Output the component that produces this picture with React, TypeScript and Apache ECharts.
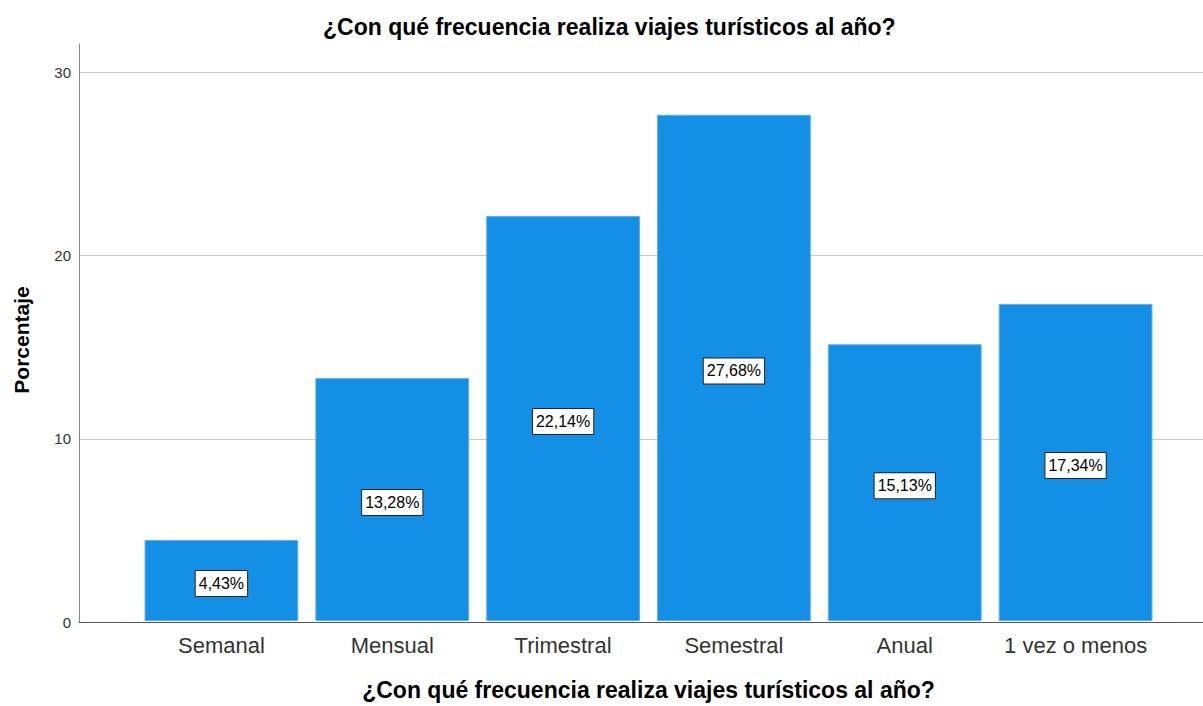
import React, { useEffect, useRef } from "react";
import * as echarts from "echarts";

const categories = ["Semanal", "Mensual", "Trimestral", "Semestral", "Anual", "1 vez o menos"];
const percentages = [4.43, 13.28, 22.14, 27.68, 15.13, 17.34];
const yTicks = [0, 10, 20, 30];
const chartTitle = "¿Con qué frecuencia realiza viajes turísticos al año?";
const xName = "¿Con qué frecuencia realiza viajes turísticos al año?";
const yName = "Porcentaje";

const FONT = "Liberation Sans, Arial, sans-serif";

export default function App() {
  const ref = useRef<HTMLDivElement>(null);
  useEffect(() => {
    const chart = echarts.init(ref.current!, null, { renderer: "svg" });
    const yMax = 31.55;
    chart.setOption({
      animation: false,
      textStyle: { fontFamily: FONT },
      title: {
        text: chartTitle,
        left: 318,
        top: 10,
        textStyle: { fontFamily: FONT, fontSize: 23, fontWeight: "bold", color: "#000" },
      },
      grid: [
        { left: 79, right: 0, top: 44, bottom: 84 },
        { left: 136, right: 42, top: 44, bottom: 84 },
      ],
      graphic: [
        {
          type: "text",
          x: 21,
          y: 340,
          rotation: Math.PI / 2,
          style: {
            text: yName,
            align: "center",
            verticalAlign: "middle",
            fontFamily: FONT,
            fontSize: 21,
            fontWeight: "bold",
            fill: "#000",
          },
        },
      ],
      xAxis: [
        {
          gridIndex: 0,
          type: "value",
          min: 0,
          max: 1,
          axisLine: { show: true, lineStyle: { color: "#555", width: 1 } },
          axisTick: { show: false },
          axisLabel: { show: false },
          splitLine: { show: false },
        },
        {
          gridIndex: 1,
          type: "category",
          data: categories,
          axisLine: { show: false },
          axisTick: { show: false },
          axisLabel: { interval: 0, fontFamily: FONT, fontSize: 22, color: "#333", margin: 13 },
          name: xName,
          nameLocation: "middle",
          nameGap: 57,
          nameTextStyle: { fontFamily: FONT, fontSize: 23, fontWeight: "bold", color: "#000" },
        },
      ],
      yAxis: [
        {
          gridIndex: 0,
          type: "value",
          min: 0,
          max: yMax,
          interval: 10,
          axisLine: { show: true, lineStyle: { color: "#888", width: 1 } },
          axisTick: { show: false },
          axisLabel: {
            fontFamily: FONT,
            fontSize: 15,
            color: "#333",
            margin: 8,
            showMaxLabel: false,
            formatter: (v: number) => (yTicks.includes(v) ? String(v) : ""),
          },
          splitLine: { show: true, showMaxLine: false, lineStyle: { color: "#c8c8c8", width: 1 } },
        },
        {
          gridIndex: 1,
          type: "value",
          min: 0,
          max: yMax,
          show: false,
        },
      ],
      series: [
        {
          type: "bar",
          xAxisIndex: 1,
          yAxisIndex: 1,
          data: percentages,
          barCategoryGap: "10%",
          itemStyle: { color: "#138FE6", borderColor: "#5aaef0", borderWidth: 1 },
          label: {
            show: true,
            position: "inside",
            offset: [0, 3],
            formatter: (p: any) => p.value.toFixed(2).replace(".", ",") + "%",
            fontFamily: FONT,
            fontSize: 16,
            color: "#000",
            backgroundColor: "#fff",
            borderColor: "#222",
            borderWidth: 1,
            padding: [5, 3, 4, 3],
          },
        },
      ],
    });
    return () => chart.dispose();
  }, []);
  return (
    <div
      ref={ref}
      style={{ position: "fixed", left: 0, top: 0, width: 1203, height: 706, background: "#fff" }}
    />
  );
}
